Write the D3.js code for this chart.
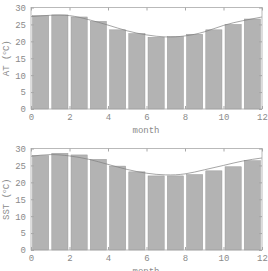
<!DOCTYPE html>
<html>
<head>
<meta charset="utf-8">
<script src="https://cdn.jsdelivr.net/npm/d3@7"></script>
<style>
  body { margin: 0; background: #fff; }
  svg text { font-family: "Liberation Mono", "DejaVu Sans Mono", monospace; fill: #8a8a8a; }
</style>
</head>
<body>
<div id="chart"></div>
<script>
// monthly means, bars at month centres
const months = [1, 2, 3, 4, 5, 6, 7, 8, 9, 10, 11, 12];
const atBars = [27.6, 27.8, 27.2, 25.9, 23.4, 22.3, 21.2, 21.4, 22.1, 23.4, 25.0, 26.6];
const sstBars = [27.9, 28.6, 28.1, 26.8, 24.8, 23.1, 21.9, 21.9, 22.3, 23.4, 24.6, 26.4];
// smooth fitted curve, read at whole months 0..12
const curveX = [0, 1, 2, 3, 4, 5, 6, 7, 8, 9, 10, 11, 12];
const atCurve = [27.3, 27.7, 27.6, 26.4, 24.8, 23.1, 21.9, 21.3, 21.6, 22.8, 24.7, 26.1, 27.2];
const sstCurve = [27.7, 28.2, 27.8, 26.8, 25.3, 23.8, 22.7, 22.2, 22.5, 23.7, 25.0, 26.3, 27.2];
const xTicks = [0, 2, 4, 6, 8, 10, 12];
const yTicks = [0, 5, 10, 15, 20, 25, 30];

const width = 268, height = 271;
const svg = d3.select('#chart').append('svg')
  .attr('width', width)
  .attr('height', height);

const panel = (top, bottom, bars, curve, name) => {
  const x = d3.scaleLinear().domain([0, 12]).range([31, 262]);
  const y = d3.scaleLinear().domain([0, 30]).range([bottom, top]);
  const g = svg.append('g');

  // bars
  g.selectAll('rect.bar')
    .data(months)
    .enter()
    .append('rect')
    .attr('class', 'bar')
    .attr('x', (m) => x(m - 0.5 - 0.42))
    .attr('width', x(0.84) - x(0))
    .attr('y', (m, i) => y(bars[i]))
    .attr('height', (m, i) => y(0) - y(bars[i]))
    .attr('fill', '#b3b3b3')
    .attr('stroke', '#9a9a9a')
    .attr('stroke-width', 0.5);

  // fitted curve
  const line = d3.line()
    .x((d, i) => x(curveX[i]))
    .y((d) => y(d))
    .curve(d3.curveNatural);
  g.append('path')
    .datum(curve)
    .attr('fill', 'none')
    .attr('stroke', '#808080')
    .attr('stroke-width', 0.7)
    .attr('d', line);

  // frame with mirrored inward ticks
  const axisStyle = (sel) => {
    sel.select('.domain').remove();
    sel.selectAll('line').attr('stroke', '#a8a8a8');
    sel.selectAll('text').attr('fill', '#8a8a8a').style('font-size', '9px')
      .style('font-family', '"Liberation Mono", monospace');
  };
  g.append('g').attr('transform', `translate(0,${bottom})`)
    .call(d3.axisBottom(x).tickValues(xTicks).tickSizeInner(-3).tickSizeOuter(0).tickPadding(5))
    .call(axisStyle);
  g.append('g').attr('transform', `translate(0,${top})`)
    .call(d3.axisTop(x).tickValues(xTicks).tickSizeInner(-3).tickSizeOuter(0).tickFormat(''))
    .call(axisStyle);
  g.append('g').attr('transform', 'translate(31,0)')
    .call(d3.axisLeft(y).tickValues(yTicks).tickSizeInner(-3).tickSizeOuter(0).tickPadding(5))
    .call(axisStyle);
  g.append('g').attr('transform', 'translate(262,0)')
    .call(d3.axisRight(y).tickValues(yTicks).tickSizeInner(-3).tickSizeOuter(0).tickFormat(''))
    .call(axisStyle);
  g.append('rect')
    .attr('x', 31).attr('y', top)
    .attr('width', 231).attr('height', bottom - top)
    .attr('fill', 'none')
    .attr('stroke', '#a8a8a8')
    .attr('stroke-width', 0.8);

  // x label
  g.append('text')
    .attr('x', 146)
    .attr('y', bottom + 24)
    .attr('text-anchor', 'middle')
    .style('font-size', '9px')
    .text('month');

  // y label with superscript degree
  const yl = g.append('text')
    .attr('transform', `translate(9,${(top + bottom) / 2}) rotate(-90)`)
    .attr('text-anchor', 'middle')
    .style('font-size', '9px');
  yl.append('tspan').text(`${name} (`);
  yl.append('tspan').attr('dy', -3).style('font-size', '6px').text('o');
  yl.append('tspan').attr('dy', 3).text('C)');
};

panel(7.5, 109, atBars, atCurve, 'AT');
panel(148.5, 250, sstBars, sstCurve, 'SST');
</script>
</body>
</html>
